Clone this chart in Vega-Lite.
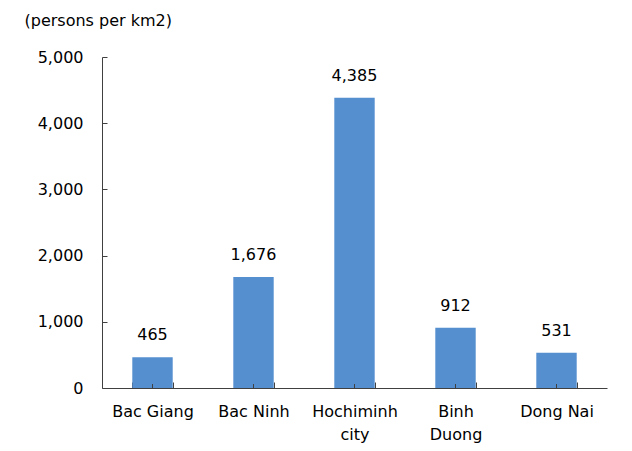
{
  "$schema": "https://vega.github.io/schema/vega-lite/v6.json",
  "autosize": {"type": "none"},
  "width": 505,
  "height": 331,
  "padding": {"left": 102, "top": 57, "right": 25, "bottom": 63},
  "background": "white",
  "config": {
    "view": {"stroke": null},
    "font": "DejaVu Sans"
  },
  "data": {
    "values": [
      {"province": "Bac Giang", "density": 465},
      {"province": "Bac Ninh", "density": 1676},
      {"province": "Hochiminh city", "density": 4385},
      {"province": "Binh Duong", "density": 912},
      {"province": "Dong Nai", "density": 531}
    ]
  },
  "encoding": {
    "x": {
      "field": "province",
      "type": "nominal",
      "sort": null,
      "scale": {"paddingInner": 0.6, "paddingOuter": 0.3},
      "axis": {
        "title": null,
        "labelAngle": 0,
        "labelFontSize": 16,
        "labelColor": "#000000",
        "labelPadding": 21,
        "labelBaseline": "top",
        "labelExpr": "datum.value == 'Hochiminh city' ? ['Hochiminh', 'city'] : datum.value == 'Binh Duong' ? ['Binh', 'Duong'] : datum.label",
        "labelLineHeight": 23,
        "domainColor": "#404040",
        "domainWidth": 1,
        "tickColor": "#404040",
        "tickSize": -6,
        "tickBand": "extent",
        "ticks": true
      }
    },
    "y": {
      "field": "density",
      "type": "quantitative",
      "scale": {"domain": [0, 5000], "nice": false},
      "axis": {
        "values": [0, 1000, 2000, 3000, 4000, 5000],
        "format": ",d",
        "grid": false,
        "labelFontSize": 16,
        "labelColor": "#000000",
        "labelPadding": 24,
        "tickSize": -5,
        "tickColor": "#404040",
        "domainColor": "#404040",
        "title": "(persons per km2)",
        "titleAngle": 0,
        "titleAlign": "left",
        "titleBaseline": "middle",
        "titleX": -78,
        "titleY": -37,
        "titleFontSize": 16,
        "titleFontWeight": "normal",
        "titleColor": "#000000"
      }
    }
  },
  "layer": [
    {
      "mark": {"type": "bar", "color": "#558FD0"}
    },
    {
      "mark": {"type": "rule", "color": "#404040", "strokeWidth": 1},
      "encoding": {
        "y": {"datum": 0},
        "y2": {"datum": 60}
      }
    },
    {
      "mark": {"type": "text", "baseline": "bottom", "dy": -14, "fontSize": 16, "color": "#000000"},
      "encoding": {
        "text": {"field": "density", "type": "quantitative", "format": ",d"}
      }
    }
  ]
}
